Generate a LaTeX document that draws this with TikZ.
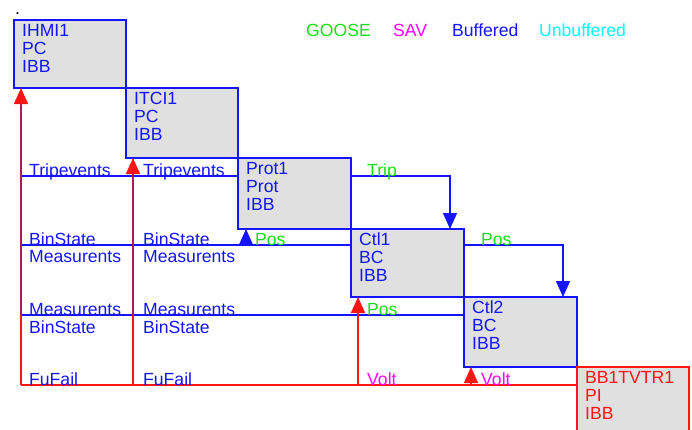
\documentclass[tikz,border=0pt]{standalone}
\usepackage{fontspec}
\setmainfont{Liberation Sans}
\usetikzlibrary{arrows.meta}
\definecolor{gooseC}{RGB}{20,225,20}
\definecolor{savC}{RGB}{255,0,255}
\definecolor{bufC}{RGB}{20,20,255}
\definecolor{unbufC}{RGB}{0,255,255}
\definecolor{boxfill}{RGB}{224,224,224}
\definecolor{redC}{RGB}{255,20,20}
\definecolor{purpC}{RGB}{180,20,90}
\tikzset{
  fnt/.style={font=\fontsize{17.6}{18}\selectfont},
  box/.style={draw=bufC, fill=boxfill, line width=1.5pt, inner sep=0pt, outer sep=0pt, anchor=north west},
  redbox/.style={box, draw=redC},
  boxtext/.style={fnt, text=bufC, align=left, anchor=north west, inner sep=0pt},
  redboxtext/.style={boxtext, text=redC},
  lbl/.style={fnt, anchor=base west, inner sep=0pt},
  bufline/.style={draw=bufC, line width=1.4pt},
  redline/.style={draw=redC, line width=1.6pt},
  purpline/.style={draw=purpC, line width=1.6pt},
  tipblue/.style={-{Triangle[length=16pt,width=14pt,color=bufC]}},
  tipred/.style={-{Triangle[length=16pt,width=14pt,color=redC]}},
}
\begin{document}
\begin{tikzpicture}[x=1pt,y=-1pt]
\useasboundingbox (0,0) rectangle (692,429);
\clip (0,0) rectangle (692,429);

% boxes
\node[box, minimum width=112pt, minimum height=68pt] (ihmi) at (14,20) {};
\node[box, minimum width=112pt, minimum height=70pt] (itci) at (126,88) {};
\node[box, minimum width=113pt, minimum height=71pt] (prot) at (238,158) {};
\node[box, minimum width=113pt, minimum height=68pt] (ctl1) at (351,229) {};
\node[box, minimum width=113pt, minimum height=70pt] (ctl2) at (464,297) {};
\node[redbox, minimum width=112pt, minimum height=70pt] (bb) at (577,367) {};

\node[boxtext] (ihmiT) at ([xshift=8pt,yshift=-4pt]ihmi.north west) {IHMI1\\PC\\IBB};
\node[boxtext] (itciT) at ([xshift=8pt,yshift=-4pt]itci.north west) {ITCI1\\PC\\IBB};
\node[boxtext] (protT) at ([xshift=8pt,yshift=-4pt]prot.north west) {Prot1\\Prot\\IBB};
\node[boxtext] (ctl1T) at ([xshift=8pt,yshift=-4pt]ctl1.north west) {Ctl1\\BC\\IBB};
\node[boxtext] (ctl2T) at ([xshift=8pt,yshift=-4pt]ctl2.north west) {Ctl2\\BC\\IBB};
\node[redboxtext] (bbT) at ([xshift=8pt,yshift=-4pt]bb.north west) {BB1TVTR1\\PI\\IBB};

% helper coordinates
\coordinate (railT) at (21,176);
\coordinate (railB) at (21,245);
\coordinate (railM) at (21,315);
\coordinate (railF) at (21,385);
\coordinate (ihmiIn) at ([xshift=7pt]ihmi.south west);
\coordinate (itciIn) at ([xshift=7pt]itci.south west);
\coordinate (tripIn) at ([xshift=-14pt]ctl1.north east);
\coordinate (posAIn) at ([xshift=8pt]prot.south west);
\coordinate (posBIn) at ([xshift=-14pt]ctl2.north east);
\coordinate (posCIn) at ([xshift=7pt]ctl1.south west);
\coordinate (voltIn) at ([xshift=7pt]ctl2.south west);

% buffered lines
\draw[bufline] (railT) -- (railT -| prot.west);
\draw[bufline, tipblue] (railT -| prot.east) -| (tripIn);
\draw[bufline] (railB) -- (railB -| ctl1.west);
\draw[bufline, tipblue] (posAIn |- railB) -- (posAIn);
\draw[bufline, tipblue] (railB -| ctl1.east) -| (posBIn);
\draw[bufline] (railM) -- (railM -| ctl2.west);

% red lines
\draw[redline] (railF) -- (railF -| bb.west);
\draw[redline, tipred] (posCIn |- railF) -- (posCIn);
\draw[redline, tipred] (voltIn |- railF) -- (voltIn);
\draw[redline] (railF) -- (railM);
\draw[purpline, tipred] (railM) -- (ihmiIn);
\draw[redline] (railF -| itciIn) -- (railM -| itciIn);
\draw[purpline, tipred] (railM -| itciIn) -- (itciIn);

% row labels
\node[lbl, text=bufC] (l1) at (29,176) {Tripevents};
\node[lbl, text=bufC] (l2) at (143,176) {Tripevents};
\node[lbl, text=bufC] (l3) at (29,245) {BinState};
\node[lbl, text=bufC] (l4) at (143,245) {BinState};
\node[lbl, text=bufC] (l5) at (29,262) {Measurents};
\node[lbl, text=bufC] (l6) at (143,262) {Measurents};
\node[lbl, text=bufC] (l7) at (29,315) {Measurents};
\node[lbl, text=bufC] (l8) at (143,315) {Measurents};
\node[lbl, text=bufC] (l9) at (29,333) {BinState};
\node[lbl, text=bufC] (l10) at (143,333) {BinState};
\node[lbl, text=bufC] (l11) at (29,385) {FuFail};
\node[lbl, text=bufC] (l12) at (143,385) {FuFail};

\node[lbl, text=gooseC] (g1) at (367,176) {Trip};
\node[lbl, text=gooseC] (g2) at (255,245) {Pos};
\node[lbl, text=gooseC] (g3) at (481,245) {Pos};
\node[lbl, text=gooseC] (g4) at (367,315) {Pos};
\node[lbl, text=savC] (s1) at (367,385) {Volt};
\node[lbl, text=savC] (s2) at (481,385) {Volt};

% legend
\node[lbl, text=gooseC] (legG) at (306,36) {GOOSE};
\node[lbl, text=savC] (legS) at (393,36) {SAV};
\node[lbl, text=bufC] (legB) at (452,36) {Buffered};
\node[lbl, text=unbufC] (legU) at (539,36) {Unbuffered};

\node[lbl] (dot) at (15,14) {.};
\end{tikzpicture}
\end{document}
